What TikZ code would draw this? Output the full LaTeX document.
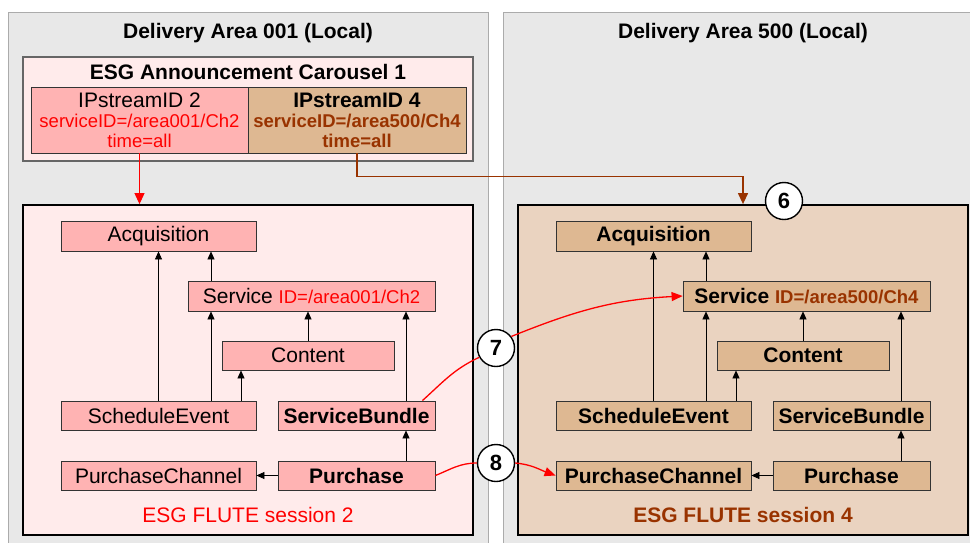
\documentclass[tikz,border=0pt]{standalone}
\usepackage{fontspec}
\setmainfont{Liberation Sans}
\usetikzlibrary{arrows.meta,calc}
\definecolor{panelgrey}{HTML}{E8E8E8}
\definecolor{panelline}{HTML}{ABABAB}
\definecolor{pinkbg}{HTML}{FFEBEB}
\definecolor{pinknode}{HTML}{FFB3B3}
\definecolor{tanbg}{HTML}{EAD3C0}
\definecolor{tannode}{HTML}{DEB892}
\definecolor{esgbrown}{HTML}{993300}
\definecolor{esgred}{HTML}{FF0000}
\tikzset{
  bigfont/.style={font=\fontsize{21}{24}\selectfont},
  panel/.style={fill=panelgrey, draw=panelline, line width=1.2pt},
  carousel/.style={fill=pinkbg, draw=black!60, line width=1.2pt},
  session/.style={draw=black, line width=1.8pt, inner sep=0pt},
  lbox/.style={draw=black!80, fill=pinknode, line width=0.8pt, inner sep=0pt, font=\fontsize{21}{24}\selectfont},
  rbox/.style={draw=black!80, fill=tannode, line width=0.8pt, inner sep=0pt, font=\bfseries\fontsize{21}{24}\selectfont},
  arr/.style={-{Triangle[length=8pt,width=7pt]}, line width=0.7pt},
  redarr/.style={-{Triangle[length=11pt,width=9pt]}, line width=1.3pt, draw=esgred, color=esgred},
  redline/.style={line width=1.3pt, draw=esgred},
  num/.style={circle, draw=black, fill=white, line width=1.4pt, minimum size=37pt, inner sep=0pt, font=\bfseries\fontsize{22}{24}\selectfont},
  idl/.style={font=\fontsize{18.5}{21}\selectfont},
}
\begin{document}
\begin{tikzpicture}[x=1pt,y=-1pt]
\useasboundingbox (0,0) rectangle (970,542);
\clip (0,0) rectangle (970,542);
% panels
\node[panel, minimum width=480pt, minimum height=548pt, inner sep=0pt, anchor=north west] (pl) at (8,12) {};
\node[panel, minimum width=480pt, minimum height=548pt, inner sep=0pt, anchor=north west] (pr) at (503,12) {};
\node[bigfont, font=\bfseries\fontsize{21}{24}\selectfont] (tl) at (248,33) {Delivery Area 001 (Local)};
\node[bigfont, font=\bfseries\fontsize{21}{24}\selectfont] (tr) at (743,33) {Delivery Area 500 (Local)};
% carousel
\node[carousel, minimum width=450pt, minimum height=104pt, inner sep=0pt] (car) at (248,109) {};
\node[font=\bfseries\fontsize{21}{24}\selectfont] (cart) at (248,72) {ESG Announcement Carousel 1};
\node[draw=black!80, fill=pinknode, line width=0.8pt, minimum width=217pt, minimum height=66pt, inner sep=0pt, align=center, font=\fontsize{21}{21}\selectfont] (ip2) at (139.5,120)
  {IPstreamID 2\\[-1pt]{\color{esgred}\fontsize{18.5}{21}\selectfont serviceID=/area001/Ch2}\\[-1pt]{\color{esgred}\fontsize{18.5}{21}\selectfont time=all}};
\node[draw=black!80, fill=tannode, line width=0.8pt, minimum width=218pt, minimum height=66pt, inner sep=0pt, align=center, font=\bfseries\fontsize{21}{21}\selectfont] (ip4) at (357,120)
  {IPstreamID 4\\[-1pt]{\color{esgbrown}\fontsize{18.5}{21}\selectfont serviceID=/area500/Ch4}\\[-1pt]{\color{esgbrown}\fontsize{18.5}{21}\selectfont time=all}};
% sessions
\node[session, fill=pinkbg, minimum width=450pt, minimum height=330pt] (lsess) at (248,370) {};
\node[session, fill=tanbg, minimum width=450pt, minimum height=330pt] (rsess) at (743,370) {};
\node[font=\fontsize{21}{24}\selectfont, text=esgred] (lsl) at (248,515) {ESG FLUTE session 2};
\node[font=\bfseries\fontsize{21}{24}\selectfont, text=esgbrown] (rsl) at (743,515) {ESG FLUTE session 4};
% left nodes
\node[lbox, minimum width=195pt, minimum height=30pt] (la) at (158.5,236) {Acquisition};
\node[lbox, minimum width=247pt, minimum height=30pt] (ls) at (311.5,296) {Service {\color{esgred}\fontsize{18.5}{21}\selectfont ID=/area001/Ch2}};
\node[lbox, minimum width=172pt, minimum height=29pt] (lc) at (308,355.5) {Content};
\node[lbox, minimum width=195pt, minimum height=29pt] (lse) at (158.5,415.5) {ScheduleEvent};
\node[lbox, minimum width=157pt, minimum height=29pt, font=\bfseries\fontsize{21}{24}\selectfont] (lsb) at (356.5,415.5) {ServiceBundle};
\node[lbox, minimum width=195pt, minimum height=29pt] (lpc) at (158.5,475.5) {PurchaseChannel};
\node[lbox, minimum width=157pt, minimum height=29pt, font=\bfseries\fontsize{21}{24}\selectfont] (lp) at (356.5,475.5) {Purchase};
% right nodes
\node[rbox, minimum width=195pt, minimum height=30pt] (ra) at (653.5,236) {Acquisition};
\node[rbox, minimum width=247pt, minimum height=30pt] (rs) at (806.5,296) {Service {\color{esgbrown}\fontsize{18.5}{21}\selectfont ID=/area500/Ch4}};
\node[rbox, minimum width=172pt, minimum height=29pt] (rc) at (803,355.5) {Content};
\node[rbox, minimum width=195pt, minimum height=29pt] (rse) at (653.5,415.5) {ScheduleEvent};
\node[rbox, minimum width=157pt, minimum height=29pt] (rsb) at (851.5,415.5) {ServiceBundle};
\node[rbox, minimum width=195pt, minimum height=29pt] (rpc) at (653.5,475.5) {PurchaseChannel};
\node[rbox, minimum width=157pt, minimum height=29pt] (rp) at (851.5,475.5) {Purchase};
% left arrows
\draw[arr] (lse.north) -- (la.south);
\draw[arr] ([xshift=-100.5pt]ls.north) -- ([xshift=-100.5pt]ls.north |- la.south);
\draw[arr] ([xshift=52.5pt]lse.north) -- ([xshift=52.5pt]lse.north |- ls.south);
\draw[arr] ([xshift=82.5pt]lse.north) -- ([xshift=82.5pt]lse.north |- lc.south);
\draw[arr] (lc.north) -- (lc.north |- ls.south);
\draw[arr] ([xshift=49.5pt]lsb.north) -- ([xshift=49.5pt]lsb.north |- ls.south);
\draw[arr] ([xshift=49.5pt]lp.north) -- ([xshift=49.5pt]lp.north |- lsb.south);
\draw[arr] (lp.west) -- (lpc.east);
% right arrows
\draw[arr] (rse.north) -- (ra.south);
\draw[arr] ([xshift=-100.5pt]rs.north) -- ([xshift=-100.5pt]rs.north |- ra.south);
\draw[arr] ([xshift=52.5pt]rse.north) -- ([xshift=52.5pt]rse.north |- rs.south);
\draw[arr] ([xshift=82.5pt]rse.north) -- ([xshift=82.5pt]rse.north |- rc.south);
\draw[arr] (rc.north) -- (rc.north |- rs.south);
\draw[arr] ([xshift=49.5pt]rsb.north) -- ([xshift=49.5pt]rsb.north |- rs.south);
\draw[arr] ([xshift=49.5pt]rp.north) -- ([xshift=49.5pt]rp.north |- rsb.south);
\draw[arr] (rp.west) -- (rpc.east);
% carousel to sessions
\draw[-{Triangle[length=11pt,width=10pt]}, line width=1pt, draw=esgred, color=esgred] (ip2.south) -- (ip2.south |- lsess.north);
\draw[-{Triangle[length=11pt,width=10pt]}, line width=1.3pt, draw=esgbrown, color=esgbrown] (ip4.south) -- ++(0,23) -| (rsess.north);
% numbered circles
\node[num] (c6) at (784,201) {6};
\node[num] (c7) at (496,348) {7};
\node[num] (c8) at (496,463) {8};
% red connectors
\draw[redline] ([xshift=-13pt]lsb.north east) to[out=42,in=205] (c7.209);
\draw[redarr] (c7.37) to[out=22,in=183] (rs.west);
\draw[redline] (lp.east) to[out=22,in=180] (c8.west);
\draw[redarr] (c8.east) to[out=-5,in=160] (rpc.west);
\end{tikzpicture}
\end{document}
